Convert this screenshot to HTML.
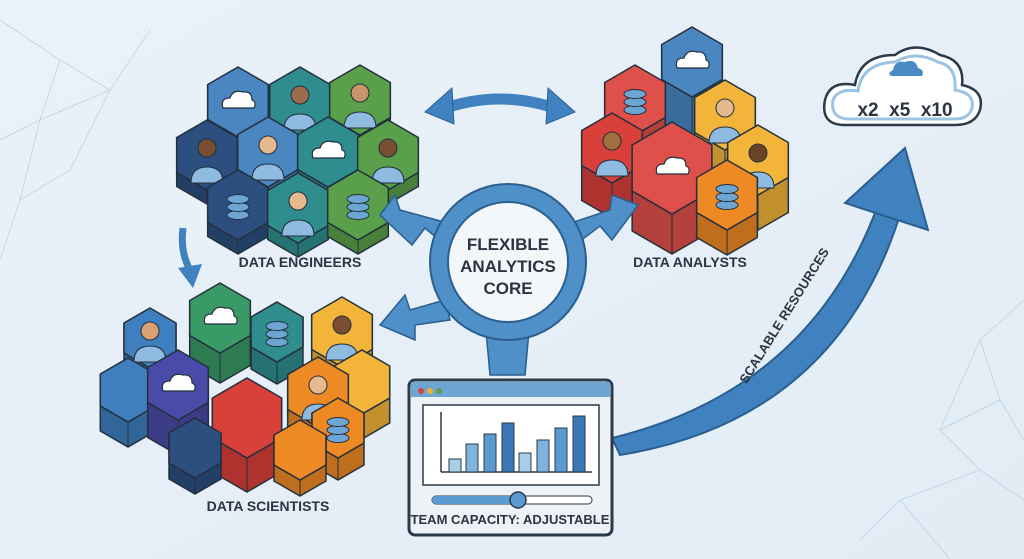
<!DOCTYPE html>
<html><head><meta charset="utf-8">
<style>
html,body{margin:0;padding:0;background:#e6eff7;}
svg{display:block;font-family:"Liberation Sans",sans-serif;}
</style></head><body>
<svg id="s" width="1024" height="559" viewBox="0 0 1024 559" xmlns="http://www.w3.org/2000/svg">
<defs>
<linearGradient id="bg" x1="0" y1="0" x2="1" y2="1"><stop offset="0" stop-color="#eaf2f9"/><stop offset="1" stop-color="#e2ecf5"/></linearGradient>
</defs>
<rect width="1024" height="559" fill="url(#bg)"/>
<g stroke="#a9c7dc" stroke-width="0.8" fill="none" opacity="0.7">
<path d="M0 20 L60 60 L40 120 L110 90 L150 30 M60 60 L110 90 M0 140 L40 120 L20 200 L70 170 L110 90 M20 200 L0 260"/>
<path d="M1024 300 L980 340 L1000 400 L940 430 L980 470 L900 500 L950 559 M980 340 L940 430 M1000 400 L1024 440 M980 470 L1024 500 M900 500 L860 540"/>
</g>
<g id="hexes"></g>

<path d="M440 110 Q500 88 560 110" stroke="#3f82bf" stroke-width="11" fill="none"/>
<polygon points="425,112 452,88 454,124" fill="#3f82bf" stroke="#2a5f8f"/>
<polygon points="575,112 548,88 546,124" fill="#3f82bf" stroke="#2a5f8f"/>
<path d="M183 228 Q180 252 190 270" stroke="#3f82bf" stroke-width="7" fill="none"/>
<polygon points="178,268 202,264 193,288" fill="#3f82bf"/>

<path d="M612 438 Q810 390 878 205 L900 215 Q835 420 620 455 Z" fill="#3f82bf" stroke="#2a5f8f" stroke-width="2"/>
<polygon points="845,203 905,148 928,230" fill="#3f82bf" stroke="#2a5f8f" stroke-width="2"/>
<text style="font-weight:bold;font-size:13px;fill:#2b3440;text-anchor:middle" transform="translate(788,318) rotate(-58)">SCALABLE RESOURCES</text>

<path d="M845 125 Q820 125 825 100 Q830 80 855 85 Q860 55 895 55 Q915 40 940 55 Q965 60 962 85 Q985 90 980 110 Q975 125 955 125 Z" fill="#fff" stroke="#2b3a4a" stroke-width="2.5"/>
<path d="M848 119 Q830 118 833 100 Q838 88 858 91 Q862 63 895 62 Q915 50 938 62 Q957 66 955 90 Q975 93 972 108 Q969 119 955 119 Z" fill="none" stroke="#9cc3e2" stroke-width="3"/>
<path d="M893 70 Q895 60 905 62 Q915 58 918 68 Q925 70 922 76 L892 76 Q886 74 893 70Z" fill="#4a8ac4"/>
<text x="905" y="116" style="font-weight:bold;font-size:19px;fill:#2b3440;text-anchor:middle">x2 &#160;x5 &#160;x10</text>

<g fill="#4f90c9" stroke="#2a5f8f" stroke-width="1.5">
<polygon points="455,225 400,210 395,195 380,215 412,245 425,228 445,245"/>
<polygon points="565,225 610,210 612,195 638,205 612,240 600,226 575,245"/>
<polygon points="445,300 410,310 405,295 380,325 415,340 415,325 450,320"/>
<polygon points="485,320 530,320 525,375 490,375"/>
</g>
<circle cx="508" cy="262" r="78" fill="#4f90c9" stroke="#2a5f8f" stroke-width="2"/>
<circle cx="508" cy="262" r="60" fill="#f4f7fa" stroke="#2a5f8f" stroke-width="2"/>
<text style="font-weight:bold;font-size:17px;fill:#2b3440;text-anchor:middle"><tspan x="508" y="250">FLEXIBLE</tspan><tspan x="508" y="272">ANALYTICS</tspan><tspan x="508" y="294">CORE</tspan></text>

<rect x="409" y="380" width="203" height="155" rx="6" fill="#eef2f6" stroke="#2b3a4a" stroke-width="3"/>
<rect x="411" y="382" width="199" height="15" fill="#6ea6d3"/>
<circle cx="421" cy="391" r="3" fill="#d9403a"/><circle cx="430" cy="391" r="3" fill="#f0b030"/><circle cx="439" cy="391" r="3" fill="#5aa04a"/>
<rect x="423" y="405" width="176" height="80" fill="#fff" stroke="#2b3a4a" stroke-width="1.5"/>
<line x1="441" y1="412" x2="441" y2="472" stroke="#2b3a4a" stroke-width="1.5"/>
<line x1="441" y1="472" x2="592" y2="472" stroke="#2b3a4a" stroke-width="1.5"/>
<g stroke="#2b3a4a" stroke-width="1">
<rect x="449" y="459" width="12" height="13" fill="#a9cfe8"/>
<rect x="466" y="444" width="12" height="28" fill="#7eb3dd"/>
<rect x="484" y="434" width="12" height="38" fill="#5b9ad0"/>
<rect x="502" y="423" width="12" height="49" fill="#3b78b8"/>
<rect x="519" y="453" width="12" height="19" fill="#a9cfe8"/>
<rect x="537" y="440" width="12" height="32" fill="#7eb3dd"/>
<rect x="555" y="428" width="12" height="44" fill="#5b9ad0"/>
<rect x="573" y="416" width="12" height="56" fill="#3b78b8"/>
</g>
<rect x="432" y="496" width="160" height="8" rx="4" fill="#fff" stroke="#2b3a4a"/>
<rect x="432" y="496" width="86" height="8" rx="4" fill="#5b9ad0"/>
<circle cx="518" cy="500" r="8" fill="#5b9ad0" stroke="#2b3a4a" stroke-width="1.5"/>
<text x="510" y="524" style="font-weight:bold;font-size:13px;fill:#2b3440;text-anchor:middle">TEAM CAPACITY: ADJUSTABLE</text>

<text x="300" y="267" style="font-weight:bold;font-size:14px;fill:#2b3440;text-anchor:middle">DATA ENGINEERS</text>
<text x="690" y="267" style="font-weight:bold;font-size:14px;fill:#2b3440;text-anchor:middle">DATA ANALYSTS</text>
<text x="268" y="511" style="font-weight:bold;font-size:14px;fill:#2b3440;text-anchor:middle">DATA SCIENTISTS</text>
</svg>
<script>
var g=document.getElementById('hexes');
function shade(c,f){var n=parseInt(c.slice(1),16),r=n>>16,gg=(n>>8)&255,b=n&255;
return 'rgb('+Math.round(r*f)+','+Math.round(gg*f)+','+Math.round(b*f)+')';}
function hex(cx,cy,r,d,c,icon){
 var p=[];for(var i=0;i<6;i++){var a=Math.PI/180*(60*i-90);p.push([cx+r*Math.cos(a),cy+r*Math.sin(a)]);}
 var s='';
 var side=[p[5],p[4],p[3],p[2],p[1],[p[1][0],p[1][1]+d],[p[2][0],p[2][1]+d],[p[3][0],p[3][1]+d],[p[4][0],p[4][1]+d],[p[5][0],p[5][1]+d]];
 s+='<polygon points="'+side.map(function(q){return q.join(',')}).join(' ')+'" fill="'+shade(c,0.8)+'" stroke="#23303d" stroke-width="1.5"/>';
 s+='<line x1="'+p[3][0]+'" y1="'+p[3][1]+'" x2="'+p[3][0]+'" y2="'+(p[3][1]+d)+'" stroke="#23303d" stroke-width="1"/>';
 s+='<polygon points="'+p.map(function(q){return q.join(',')}).join(' ')+'" fill="'+c+'" stroke="#23303d" stroke-width="1.5"/>';
 if(icon=='cloud'){s+='<path d="M'+(cx-15)+' '+(cy+6)+' q-3 -10 7 -10 q3 -9 13 -6 q9 -1 9 8 q5 2 2 8 z" fill="#fff" stroke="#23303d" stroke-width="1.2"/>';}
 if(icon=='db'){for(var k=0;k<3;k++)s+='<ellipse cx="'+cx+'" cy="'+(cy+10-k*8)+'" rx="11" ry="4.5" fill="#6ea6d3" stroke="#23303d"/>';}
 if(icon&&icon.charAt(0)=='#'){s+='<path d="M'+(cx-16)+' '+(cy+r*0.8)+' q0 -16 16 -16 q16 0 16 16 z" fill="#8fbbe0" stroke="#23303d"/><circle cx="'+cx+'" cy="'+(cy-7)+'" r="9" fill="'+icon+'" stroke="#23303d"/>';}
 g.insertAdjacentHTML('beforeend',s);
}
var R=35;
hex(238,102,R,12,'#4a86c0','cloud');hex(300,102,R,12,'#2f8d8d','#9a6a4a');hex(360,100,R,12,'#5aa04a','#c9956b');
hex(207,155,R,14,'#2c4f80','#7a4e32');hex(268,152,R,14,'#4a86c0','#e7b98f');hex(328,152,R,14,'#2f8d8d','cloud');hex(388,155,R,14,'#5aa04a','#7a4e32');
hex(238,205,R,14,'#2c4f80','db');hex(298,208,R,14,'#2f8d8d','#e7b98f');hex(358,205,R,14,'#5aa04a','db');
hex(692,62,R,60,'#4a86c0','cloud');hex(635,100,R,30,'#e0504a','db');hex(725,115,R,35,'#f2b53a','#e7b98f');
hex(612,148,R,35,'#d9403a','#a0703f');hex(672,168,46,40,'#e0504a','cloud');hex(758,160,R,35,'#f2b53a','#6b4226');hex(727,195,R,25,'#ee8a24','db');
hex(150,338,30,22,'#3f7fbf','#d9a070');hex(220,318,R,30,'#3a9a66','cloud');hex(277,332,30,22,'#2f8d8d','db');hex(342,332,R,25,'#f2b53a','#7a4e32');
hex(128,390,32,25,'#3f7fbf',null);hex(178,385,R,35,'#4a4aa8','cloud');hex(362,382,32,25,'#f2b53a',null);hex(247,418,40,34,'#d9403a',null);
hex(318,392,R,35,'#ee8a24','#e7b98f');hex(338,428,30,22,'#ee8a24','db');hex(195,448,30,16,'#2c4f80',null);hex(300,450,30,16,'#ee8a24',null);
</script>
</body></html>
